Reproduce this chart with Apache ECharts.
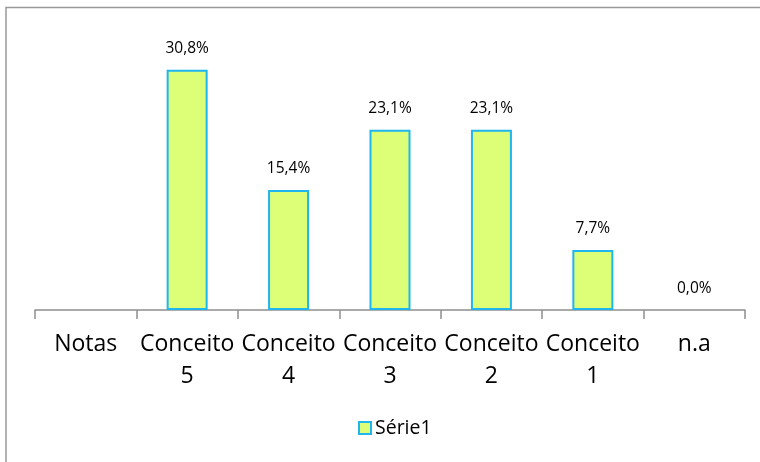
<!DOCTYPE html>
<html>
<head>
<meta charset="utf-8">
<script src="https://cdn.jsdelivr.net/npm/echarts@6/dist/echarts.min.js"></script>
<style>
html,body{margin:0;padding:0;background:#fff;}
#c{width:760px;height:462px;}
</style>
</head>
<body>
<div id="c"></div>
<script>
var categories = ['Notas', 'Conceito\n5', 'Conceito\n4', 'Conceito\n3', 'Conceito\n2', 'Conceito\n1', 'n.a'];
var seriesName = 'Série1';
var values = ['-', 30.8, 15.4, 23.1, 23.1, 7.7, 0.0];

var chart = echarts.init(document.getElementById('c'), null, {renderer: 'canvas'});
var FONT = 'Open Sans';
chart.setOption({
  backgroundColor: '#fff',
  animation: false,
  textStyle: {fontFamily: FONT},
  graphic: [{
    type: 'rect',
    shape: {x: 6, y: 7.5, width: 800, height: 500},
    style: {fill: 'none', stroke: '#999', lineWidth: 1.5},
    silent: true
  }],
  grid: {left: 35, right: 15, top: 37, bottom: 152, containLabel: false},
  legend: {
    data: [seriesName],
    bottom: 19,
    left: 353,
    itemWidth: 12,
    itemHeight: 12,
    itemGap: 10,
    icon: 'rect',
    textStyle: {fontFamily: FONT, fontSize: 19.5, color: '#000', padding: [0, 0, 0, -1]}
  },
  xAxis: {
    type: 'category',
    data: categories,
    boundaryGap: true,
    axisLine: {lineStyle: {color: '#8f8f8f', width: 1.5}},
    axisTick: {show: true, length: 9, interval: 0, lineStyle: {color: '#8f8f8f', width: 1.5}},
    axisLabel: {
      interval: 0,
      margin: 18,
      fontFamily: FONT,
      fontSize: 23,
      lineHeight: 32,
      color: '#000'
    }
  },
  yAxis: {
    type: 'value',
    min: 0,
    max: 35,
    show: false,
    splitLine: {show: false}
  },
  series: [{
    name: seriesName,
    type: 'bar',
    data: values.map(function (v) {
      if (v === 0) {
        return {value: v, itemStyle: {borderWidth: 0, color: 'rgba(0,0,0,0)'}};
      }
      return v;
    }),
    barWidth: 41,
    itemStyle: {color: '#DDFF77', borderColor: '#1FB5EE', borderWidth: 2},
    label: {
      show: true,
      position: 'top',
      distance: 13,
      fontFamily: FONT,
      fontSize: 15.5,
      color: '#000',
      formatter: function (p) {
        return p.value.toFixed(1).replace('.', ',') + '%';
      }
    }
  }]
});
</script>
</body>
</html>
